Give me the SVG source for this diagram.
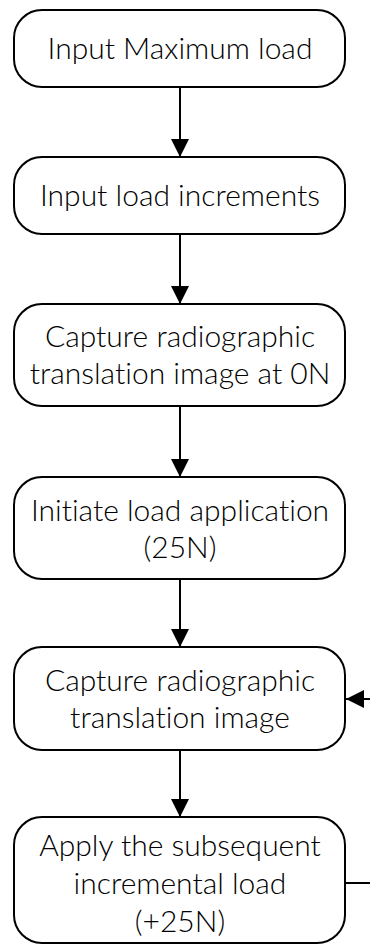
<svg xmlns="http://www.w3.org/2000/svg" width="370" height="945" viewBox="0 0 370 945">
<defs>
<marker id="ah" markerWidth="18" markerHeight="18" viewBox="0 0 18 18" refX="18" refY="9" orient="auto" markerUnits="userSpaceOnUse">
<path d="M0,0 L18,9 L0,18 Z" fill="#000"/>
</marker>
<style>
.box{fill:#fff;stroke:#000;stroke-width:2}
.t{font-family:Lato,"Open Sans","Liberation Sans",sans-serif;font-weight:300;font-size:30px;fill:#000;text-anchor:middle;font-variant-ligatures:none;font-feature-settings:"liga" 0,"dlig" 0}
.c{fill:none;stroke:#000;stroke-width:2}
</style>
</defs>
<rect width="370" height="945" fill="#fff"/>
<g id="connectors">
<line class="c" x1="180" y1="87" x2="180" y2="157" marker-end="url(#ah)"/>
<line class="c" x1="180" y1="234" x2="180" y2="304" marker-end="url(#ah)"/>
<line class="c" x1="180" y1="406" x2="180" y2="477" marker-end="url(#ah)"/>
<line class="c" x1="180" y1="579" x2="180" y2="647" marker-end="url(#ah)"/>
<line class="c" x1="180" y1="750" x2="180" y2="817" marker-end="url(#ah)"/>
<path class="c" d="M345,883 H375 V699 H346" marker-end="url(#ah)"/>
</g>
<g id="n1"><rect class="box" x="14" y="10" width="331" height="77" rx="28"/><text class="t" x="180" y="59">Input Maximum load</text></g>
<g id="n2"><rect class="box" x="14" y="157" width="331" height="77" rx="28"/><text class="t" x="180" y="206">Input load increments</text></g>
<g id="n3"><rect class="box" x="14" y="304" width="331" height="102" rx="28"/><text class="t" x="180" y="347">Capture radiographic</text><text class="t" x="180" y="384">translation image at 0N</text></g>
<g id="n4"><rect class="box" x="14" y="477" width="331" height="102" rx="28"/><text class="t" x="180" y="521">Initiate load application</text><text class="t" x="180" y="558">(25N)</text></g>
<g id="n5"><rect class="box" x="14" y="647" width="331" height="103" rx="28"/><text class="t" x="180" y="691">Capture radiographic</text><text class="t" x="180" y="728">translation image</text></g>
<g id="n6"><rect class="box" x="14" y="817" width="331" height="126" rx="28"/><text class="t" x="180" y="856">Apply the subsequent</text><text class="t" x="180" y="894">incremental load</text><text class="t" x="180" y="932">(+25N)</text></g>
</svg>
